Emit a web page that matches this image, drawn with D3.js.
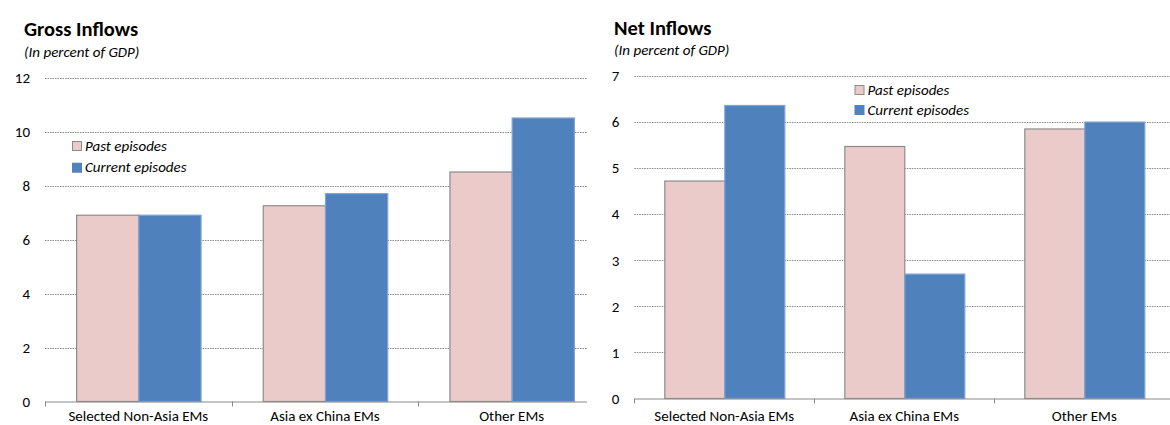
<!DOCTYPE html>
<html><head><meta charset="utf-8">
<script src="https://cdn.jsdelivr.net/npm/d3@7"></script>
<style>
body{margin:0;background:#fff;}
svg{display:block;font-family:Carlito,Lato,"Liberation Sans",sans-serif;}
</style></head>
<body><svg id="c" width="1170" height="425"></svg>
<script>
const categories = ["Selected Non-Asia EMs","Asia ex China EMs","Other EMs"];
const seriesNames = ["Past episodes","Current episodes"];
const grossPast = [6.9, 7.25, 8.5];
const grossCurrent = [6.9, 7.7, 10.5];
const netPast = [4.72, 5.47, 5.85];
const netCurrent = [6.36, 2.7, 6.0];
const grossTicks = [0,2,4,6,8,10,12];
const netTicks = [0,1,2,3,4,5,6,7];

const colors = ["#EBCACA","#4F81BD"];
const strokes = ["#8C8C8C","#7FA3D4"];
const svg = d3.select("#c");

function panel(o){
  const g = svg.append("g");
  const clipId = "clip"+o.id;
  svg.append("clipPath").attr("id",clipId).append("rect")
    .attr("x",o.x0-40).attr("y",0).attr("width",o.clipRight-(o.x0-40)).attr("height",425);
  g.attr("clip-path","url(#"+clipId+")");
  const x = d3.scaleBand().domain(categories).range([o.x0,o.x1]).paddingInner(1/3).paddingOuter(1/6);
  const xs = d3.scaleBand().domain(seriesNames).range([0,x.bandwidth()]);
  const y = d3.scaleLinear().domain([0,o.max]).range([o.y0,o.yTop]);
  // gridlines
  g.append("g").selectAll("line").data(o.ticks.filter(t=>t>0)).join("line")
    .attr("x1",o.x0).attr("x2",o.x1).attr("y1",d=>Math.round(y(d))+0.5).attr("y2",d=>Math.round(y(d))+0.5)
    .attr("stroke","#8a8a8a").attr("stroke-width",1).attr("stroke-dasharray","1.5,1");
  // y labels
  g.append("g").selectAll("text").data(o.ticks).join("text")
    .attr("x",o.x0-15).attr("y",d=>y(d)).attr("dy","0.35em").attr("text-anchor","end")
    .attr("font-size",15).attr("fill","#000").text(d=>d);
  // bars
  const data = categories.map((c,i)=>({c, vals:[o.past[i],o.current[i]]}));
  const grp = g.append("g").selectAll("g").data(data).join("g")
    .attr("transform",d=>`translate(${x(d.c)},0)`);
  grp.selectAll("rect").data(d=>d.vals.map((v,j)=>({v,j}))).join("rect")
    .attr("x",d=>xs(seriesNames[d.j])+0.5).attr("width",xs.bandwidth())
    .attr("y",d=>y(d.v)).attr("height",d=>o.y0-y(d.v))
    .attr("fill",d=>colors[d.j]).attr("stroke",d=>strokes[d.j]).attr("stroke-width",1.2);
  // x axis line and ticks
  const axisG = g.append("g");
  axisG.append("line").attr("x1",o.x0).attr("x2",o.x1).attr("y1",o.y0+0.5).attr("y2",o.y0+0.5)
    .attr("stroke","#8a8a8a").attr("stroke-width",1.2);
  const bounds = d3.range(categories.length+1).map(i=>o.x0+i*x.step());
  axisG.selectAll("line.t").data(bounds).join("line").attr("class","t")
    .attr("x1",d=>Math.round(d)+0.5).attr("x2",d=>Math.round(d)+0.5).attr("y1",o.y0).attr("y2",o.y0+5)
    .attr("stroke","#8a8a8a");
  axisG.selectAll("text").data(categories).join("text")
    .attr("x",d=>x(d)+x.bandwidth()/2).attr("y",o.labelY).attr("text-anchor","middle")
    .attr("font-size",15).attr("fill","#000").text(d=>d);
  // titles
  svg.append("text").attr("x",o.titleX).attr("y",o.titleY).attr("font-size",20.5).attr("font-weight","bold").text(o.title);
  svg.append("text").attr("x",o.titleX).attr("y",o.titleY+20.5).attr("font-size",15).attr("font-style","italic").text("(In percent of GDP)");
  // legend
  const lg = svg.append("g").attr("transform",`translate(${o.legX},${o.legY})`);
  seriesNames.forEach((s,j)=>{
    lg.append("rect").attr("x",0.5).attr("y",j*o.legStep+0.5).attr("width",9).attr("height",9)
      .attr("fill",colors[j]).attr("stroke",j===0?"#8C8C8C":colors[j]).attr("stroke-width",1);
    lg.append("text").attr("x",13).attr("y",j*o.legStep+9.5).attr("font-size",15).attr("font-style","italic").text(s);
  });
}

panel({id:"a",title:"Gross Inflows",titleX:24,titleY:36,x0:45,x1:605,clipRight:587,y0:401.5,yTop:77.5,max:12,
  ticks:grossTicks,past:grossPast,current:grossCurrent,labelY:421,legX:72,legY:141,legStep:21.7});
panel({id:"b",title:"Net Inflows",titleX:614,titleY:34.5,x0:634.3,x1:1174.3,clipRight:1170,y0:398.5,yTop:76,max:7,
  ticks:netTicks,past:netPast,current:netCurrent,labelY:421,legX:854.5,legY:85,legStep:20});
</script></body></html>
